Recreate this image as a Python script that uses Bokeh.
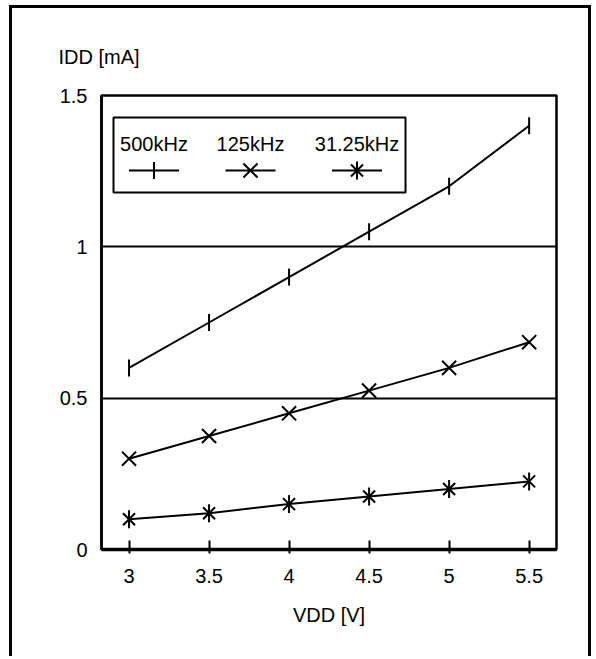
import math
from bokeh.plotting import figure
from bokeh.models import Range1d, FixedTicker, Label, BoxAnnotation, CustomJSTickFormatter
from bokeh.embed import file_html
from bokeh.resources import INLINE

# ---- data ----
vdd = [3, 3.5, 4, 4.5, 5, 5.5]
i_500k = [0.60, 0.75, 0.90, 1.05, 1.20, 1.40]
i_125k = [0.30, 0.375, 0.45, 0.525, 0.60, 0.685]
i_31k = [0.10, 0.12, 0.15, 0.175, 0.20, 0.225]
series_labels = ["500kHz", "125kHz", "31.25kHz"]
x_ticks = [3, 3.5, 4, 4.5, 5, 5.5]
y_ticks = [0, 0.5, 1, 1.5]
x_title = "VDD [V]"
y_title = "IDD [mA]"

# ---- layout ----
OX, OY = 12, 8          # page position of canvas origin (after css margin + border)
W, H = 582, 651
ML, MR, MT, MB = 89, 38, 87, 110
X0, X1 = 2.828, 5.671
Y0, Y1 = 0.0, 1.5
FW, FH = W - ML - MR, H - MT - MB
FONT = "Liberation Sans"
FS = "20px"


def fx(px):  # page pixel -> data x
    return X0 + (px - (OX + ML)) / FW * (X1 - X0)


def fy(py):  # page pixel -> data y
    return Y1 - (py - (OY + MT)) / FH * (Y1 - Y0)


p = figure(width=W, height=H, x_range=Range1d(X0, X1), y_range=Range1d(Y0, Y1),
           output_backend="svg", toolbar_location=None,
           min_border_left=ML, min_border_right=MR, min_border_top=MT, min_border_bottom=MB)

p.styles = {"margin-left": "9px", "margin-top": "5px",
            "border-left": "3px solid black", "border-top": "3px solid black",
            "border-right": "3px solid black"}

p.outline_line_color = "black"
p.outline_line_width = 2.5
p.outline_line_alpha = 1.0

fmt = CustomJSTickFormatter(code="return tick.toString();")

xa = p.xaxis[0]
xa.ticker = FixedTicker(ticks=x_ticks)
xa.formatter = fmt
xa.axis_line_width = 3.5
xa.axis_line_color = "black"
xa.major_tick_in = 9
xa.major_tick_out = 4
xa.major_tick_line_width = 2
xa.major_tick_line_color = "black"
xa.minor_tick_line_color = None
xa.major_label_text_font = FONT
xa.major_label_text_font_size = FS
xa.major_label_text_color = "black"
xa.major_label_standoff = 15
xa.axis_label = x_title
xa.axis_label_text_font = FONT
xa.axis_label_text_font_size = FS
xa.axis_label_text_font_style = "normal"
xa.axis_label_text_color = "black"
xa.axis_label_standoff = 18

ya = p.yaxis[0]
ya.ticker = FixedTicker(ticks=y_ticks)
ya.formatter = fmt
ya.axis_line_width = 2.5
ya.axis_line_color = "black"
ya.major_tick_line_color = None
ya.minor_tick_line_color = None
ya.major_tick_in = 0
ya.major_tick_out = 0
ya.major_label_text_font = FONT
ya.major_label_text_font_size = FS
ya.major_label_text_color = "black"
ya.major_label_standoff = 14

p.xgrid.visible = False
p.ygrid.ticker = FixedTicker(ticks=y_ticks)
p.ygrid.grid_line_color = "black"
p.ygrid.grid_line_width = 1.8
p.ygrid.grid_line_alpha = 1.0

# ---- y title (as plot title, left aligned over axis labels) ----
p.title.text = y_title
p.title.align = "left"
p.title.offset = -43
p.title.standoff = 56
p.title.text_font = FONT
p.title.text_font_size = FS
p.title.text_font_style = "normal"
p.title.text_color = "black"

# ---- series ----
p.line(vdd, i_500k, line_color="black", line_width=2)
p.scatter(vdd, i_500k, marker="dash", angle=math.pi / 2, size=17, line_color="black", line_width=2)

p.line(vdd, i_125k, line_color="black", line_width=2)
p.scatter(vdd, i_125k, marker="x", size=20, line_color="black", line_width=2)

p.line(vdd, i_31k, line_color="black", line_width=2)
p.scatter(vdd, i_31k, marker="x", size=17, line_color="black", line_width=2)
p.scatter(vdd, i_31k, marker="dash", angle=math.pi / 2, size=18, line_color="black", line_width=2)

# ---- legend (manual, labels above samples) ----
p.add_layout(BoxAnnotation(left=fx(113), right=fx(405), top=fy(117), bottom=fy(192),
                           fill_color="white", fill_alpha=1.0, line_color="black", line_alpha=1.0,
                           line_width=2, level="underlay"))
centers = [153.5, 250, 356.5]
for lab, c, k in zip(series_labels, centers, range(3)):
    p.add_layout(Label(x=fx(c), y=fy(143), text=lab, text_align="center", text_baseline="alphabetic",
                       text_font=FONT, text_font_size=FS, text_color="black"))
    p.line([fx(c - 25), fx(c + 25)], [fy(170), fy(170)], line_color="black", line_width=2)
    if k == 0:
        p.scatter([fx(c)], [fy(170)], marker="dash", angle=math.pi / 2, size=17, line_color="black", line_width=2)
    elif k == 1:
        p.scatter([fx(c)], [fy(170)], marker="x", size=20, line_color="black", line_width=2)
    else:
        p.scatter([fx(c)], [fy(170)], marker="x", size=17, line_color="black", line_width=2)
        p.scatter([fx(c)], [fy(170)], marker="dash", angle=math.pi / 2, size=18, line_color="black", line_width=2)

open("out.html", "w").write(file_html(p, INLINE))
